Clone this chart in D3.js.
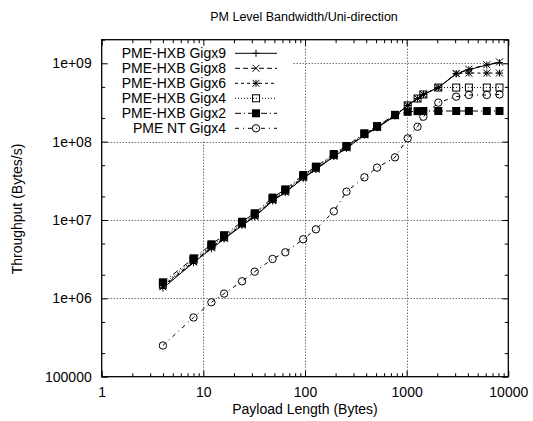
<!DOCTYPE html>
<html><head><meta charset="utf-8">
<script src="https://cdn.jsdelivr.net/npm/d3@7"></script>
<style>
html,body{margin:0;padding:0;background:#fff;}
svg{display:block;font-family:"Liberation Sans",Arial,Helvetica,sans-serif;}
</style></head>
<body><svg id="c" width="533" height="421"></svg>
<script>
const sizes = [4,8,12,16,24,32,48,64,96,128,192,256,384,512,768,1024,1280,1460,2048,3072,4096,6144,8192];
const gigx9 = [1.35e6,2.85e6,4.3e6,5.7e6,8.5e6,1.1e7,1.75e7,2.25e7,3.4e7,4.4e7,6.45e7,8.2e7,1.21e8,1.5e8,2.13e8,2.9e8,3.55e8,4.0e8,4.9e8,7.3e8,8.3e8,9.5e8,1.02e9];
const gigx8 = [1.4e6,2.9e6,4.4e6,5.8e6,8.6e6,1.11e7,1.77e7,2.27e7,3.45e7,4.45e7,6.5e7,8.3e7,1.22e8,1.51e8,2.14e8,2.9e8,3.55e8,4.0e8,4.9e8,7.4e8,8.4e8,9.6e8,1.04e9];
const gigx6 = [1.45e6,2.95e6,4.5e6,5.9e6,8.8e6,1.13e7,1.8e7,2.3e7,3.5e7,4.5e7,6.6e7,8.4e7,1.23e8,1.52e8,2.15e8,2.9e8,3.55e8,4.0e8,4.9e8,7.4e8,7.5e8,7.5e8,7.5e8];
const gigx4 = [1.5e6,3.1e6,4.7e6,6.1e6,9.1e6,1.17e7,1.85e7,2.38e7,3.6e7,4.65e7,6.8e7,8.6e7,1.25e8,1.55e8,2.18e8,2.9e8,3.55e8,4.0e8,4.9e8,4.9e8,4.9e8,4.9e8,4.9e8];
const gigx2 = [1.6e6,3.24e6,4.9e6,6.4e6,9.5e6,1.22e7,1.93e7,2.46e7,3.75e7,4.8e7,6.95e7,8.8e7,1.28e8,1.58e8,2.2e8,2.4e8,2.45e8,2.46e8,2.46e8,2.46e8,2.46e8,2.46e8,2.46e8];
const ntGigx4 = [2.5e5,5.7e5,8.9e5,1.15e6,1.65e6,2.19e6,3.18e6,3.87e6,5.68e6,7.6e6,1.29e7,2.3e7,3.5e7,4.66e7,6.3e7,1.1e8,1.55e8,2.08e8,3.15e8,3.75e8,3.94e8,3.94e8,4.0e8];
const seriesNames = ["PME-HXB Gigx9","PME-HXB Gigx8","PME-HXB Gigx6","PME-HXB Gigx4","PME-HXB Gigx2","PME NT Gigx4"];
const xTickLabels = ["1","10","100","1000","10000"];
const yTickLabels = ["100000","1e+06","1e+07","1e+08","1e+09"];
const xMajor = [1,10,100,1000,10000];
const yMajor = [1e5,1e6,1e7,1e8,1e9];
const title = "PM Level Bandwidth/Uni-direction";
const xTitle = "Payload Length (Bytes)";
const yTitle = "Throughput (Bytes/s)";

const series = [
  {name:seriesNames[0], vals:gigx9, dash:null, marker:"plus"},
  {name:seriesNames[1], vals:gigx8, dash:"5,3", marker:"cross"},
  {name:seriesNames[2], vals:gigx6, dash:"3,3", marker:"star"},
  {name:seriesNames[3], vals:gigx4, dash:"1,2", marker:"osquare"},
  {name:seriesNames[4], vals:gigx2, dash:"6,3,1,3", marker:"fsquare"},
  {name:seriesNames[5], vals:ntGigx4, dash:"4,4,1,4", marker:"circle"}
];

const L=101.7, R=508.3, T=39.7, B=376.7;
const x = d3.scaleLog().domain([1,10000]).range([L,R]);
const y = d3.scaleLog().domain([1e5,2e9]).range([B,T]);
const svg = d3.select("#c");

// title
svg.append("text").attr("x",304).attr("y",21).attr("text-anchor","middle")
  .attr("font-size",12.5).text(title);

// grid
const grid = svg.append("g").attr("stroke","#000").attr("stroke-width",1).attr("stroke-dasharray","1,2").attr("opacity",0.8);
[10,100,1000].forEach(v=>{
  grid.append("line").attr("x1",Math.round(x(v))+0.5).attr("x2",Math.round(x(v))+0.5).attr("y1",T).attr("y2",B);
});
[1e6,1e7,1e8,1e9].forEach(v=>{
  grid.append("line").attr("y1",Math.round(y(v))+0.5).attr("y2",Math.round(y(v))+0.5).attr("x1",L).attr("x2",R);
});
// legend background (hides grid)
svg.append("rect").attr("x",L+1).attr("y",T+1).attr("width",190).attr("height",99).attr("fill","#fff");

// axes ticks
const xMinor=[], yMinor=[];
[1,10,100,1000].forEach(d=>{for(let k=2;k<=9;k++) xMinor.push(d*k);});
[1e5,1e6,1e7,1e8,1e9].forEach(d=>{[2,5].forEach(k=>{ if(d*k<=2e9) yMinor.push(d*k);});});

function addAxis(gen, tf){
  const g = svg.append("g").attr("transform",tf).call(gen);
  g.select(".domain").remove();
  return g;
}
const fs = 14;
// bottom
let g = addAxis(d3.axisBottom(x).tickValues(xMajor).tickSize(-6).tickPadding(10).tickFormat((d,i)=>xTickLabels[i]), `translate(0,${B})`);
g.selectAll("text").attr("font-size",fs).attr("font-family","Liberation Sans, Arial, sans-serif").attr("fill","#000");
addAxis(d3.axisBottom(x).tickValues(xMinor).tickSize(-3.5).tickFormat(""), `translate(0,${B})`);
// top
addAxis(d3.axisTop(x).tickValues(xMajor).tickSize(-6).tickFormat(""), `translate(0,${T})`);
addAxis(d3.axisTop(x).tickValues(xMinor).tickSize(-3.5).tickFormat(""), `translate(0,${T})`);
// left
g = addAxis(d3.axisLeft(y).tickValues(yMajor).tickSize(-6).tickPadding(10).tickFormat((d,i)=>yTickLabels[i]), `translate(${L},0)`);
g.selectAll("text").attr("font-size",fs).attr("font-family","Liberation Sans, Arial, sans-serif").attr("fill","#000");
addAxis(d3.axisLeft(y).tickValues(yMinor).tickSize(-3.5).tickFormat(""), `translate(${L},0)`);
// right
addAxis(d3.axisRight(y).tickValues(yMajor).tickSize(-6).tickFormat(""), `translate(${R},0)`);
addAxis(d3.axisRight(y).tickValues(yMinor).tickSize(-3.5).tickFormat(""), `translate(${R},0)`);

// axis titles
svg.append("text").attr("x",305).attr("y",414).attr("text-anchor","middle").attr("font-size",14).text(xTitle);
svg.append("text").attr("transform","translate(22,209) rotate(-90)").attr("text-anchor","middle").attr("font-size",14).text(yTitle);

// markers
function drawMarker(sel, type, cx, cy){
  const s=3.5;
  if(type==="plus"){
    sel.append("path").attr("d",`M${cx-s},${cy}H${cx+s}M${cx},${cy-s}V${cy+s}`).attr("stroke","#000").attr("fill","none");
  } else if(type==="cross"){
    sel.append("path").attr("d",`M${cx-s},${cy-s}L${cx+s},${cy+s}M${cx-s},${cy+s}L${cx+s},${cy-s}`).attr("stroke","#000").attr("fill","none");
  } else if(type==="star"){
    sel.append("path").attr("d",`M${cx-s},${cy}H${cx+s}M${cx},${cy-s}V${cy+s}M${cx-s},${cy-s}L${cx+s},${cy+s}M${cx-s},${cy+s}L${cx+s},${cy-s}`).attr("stroke","#000").attr("fill","none");
  } else if(type==="osquare"){
    sel.append("rect").attr("x",cx-s).attr("y",cy-s).attr("width",2*s).attr("height",2*s).attr("fill","none").attr("stroke","#000");
  } else if(type==="fsquare"){
    sel.append("rect").attr("x",cx-4).attr("y",cy-4).attr("width",8).attr("height",8).attr("fill","#000");
  } else if(type==="circle"){
    sel.append("circle").attr("cx",cx).attr("cy",cy).attr("r",3.7).attr("fill","none").attr("stroke","#000");
  }
}

// data
const line = d3.line().x(d=>x(d[0])).y(d=>y(d[1]));
series.forEach(s=>{
  const pts = sizes.map((v,i)=>[v,s.vals[i]]);
  const gs = svg.append("g");
  gs.append("path").datum(pts).attr("d",line).attr("fill","none").attr("stroke","#000").attr("stroke-width",1)
    .attr("stroke-dasharray",s.dash);
  pts.forEach(p=>drawMarker(gs, s.marker, x(p[0]), y(p[1])));
});

// legend
series.forEach((s,i)=>{
  const cy = 53.3 + i*15;
  svg.append("text").attr("x",226).attr("y",cy+5).attr("text-anchor","end").attr("font-size",14).text(s.name);
  const gl = svg.append("g");
  gl.append("line").attr("x1",235).attr("x2",277).attr("y1",cy).attr("y2",cy).attr("stroke","#000").attr("stroke-width",1).attr("stroke-dasharray",s.dash);
  drawMarker(gl, s.marker, 256, cy);
});

// frame
svg.append("rect").attr("x",L).attr("y",T).attr("width",R-L).attr("height",B-T).attr("fill","none").attr("stroke","#000").attr("stroke-width",1.3);
</script></body></html>
